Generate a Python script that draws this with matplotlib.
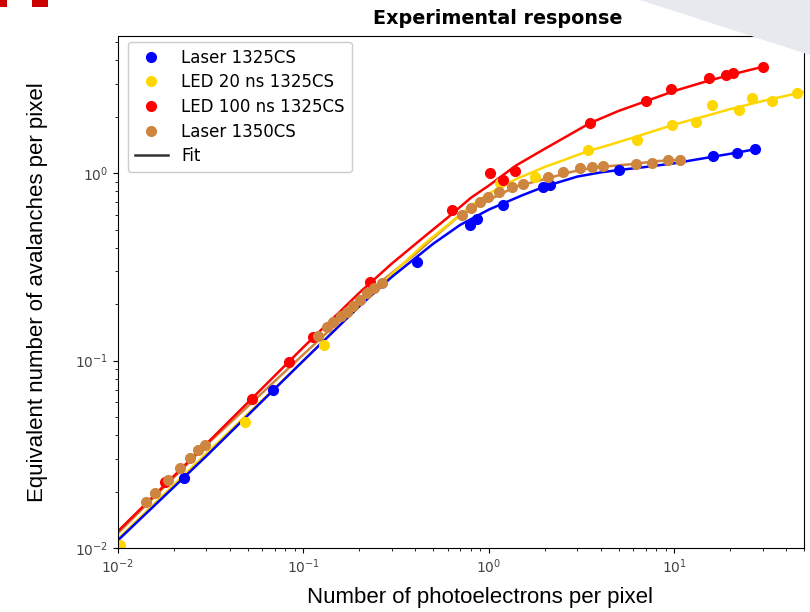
import matplotlib
matplotlib.use('Agg')
import matplotlib.pyplot as plt
from matplotlib.lines import Line2D
from matplotlib.patches import Polygon, Rectangle

# measured points
laser_1325_x = [0.0227, 0.0686, 0.409, 0.79, 0.86, 1.19, 1.95, 2.13, 5.0, 16.1, 21.7, 27.2]
laser_1325_y = [0.0236, 0.0696, 0.335, 0.528, 0.569, 0.675, 0.842, 0.863, 1.04, 1.23, 1.29, 1.34]

led20_x = [0.0102, 0.0484, 0.129, 1.15, 1.77, 3.42, 6.28, 9.7, 13.1, 15.9, 22.3, 26.2, 33.6, 45.7]
led20_y = [0.0104, 0.047, 0.121, 0.885, 0.95, 1.33, 1.50, 1.82, 1.87, 2.31, 2.17, 2.51, 2.42, 2.67]

led100_x = [0.018, 0.0527, 0.0836, 0.112, 0.229, 0.632, 1.01, 1.19, 1.38, 3.5, 7.0, 9.57, 15.3, 19.0, 20.7, 30.0]
led100_y = [0.0225, 0.0623, 0.098, 0.133, 0.262, 0.635, 1.0, 0.918, 1.03, 1.85, 2.42, 2.81, 3.21, 3.33, 3.41, 3.68]

laser_1350_x = [0.0142, 0.0158, 0.0186, 0.0216, 0.0244, 0.027, 0.0295,
                0.12, 0.134, 0.145, 0.16, 0.171, 0.185, 0.202, 0.22, 0.24, 0.265,
                0.715, 0.80, 0.89, 0.99, 1.13, 1.34, 1.52, 2.08, 2.5, 3.1, 3.6, 4.1,
                6.2, 7.6, 9.2, 10.7]
laser_1350_y = [0.0176, 0.0197, 0.023, 0.0267, 0.0302, 0.0335, 0.0355,
                0.135, 0.151, 0.16, 0.172, 0.181, 0.195, 0.21, 0.23, 0.245, 0.259,
                0.597, 0.65, 0.70, 0.745, 0.79, 0.84, 0.88, 0.95, 1.01, 1.06, 1.08, 1.09,
                1.12, 1.14, 1.17, 1.18]

# fit curves
fit_1325_x = [0.01, 0.03, 0.1, 0.2, 0.3, 0.5, 0.7, 1, 1.5, 2, 3, 4, 5, 7, 10, 15, 20, 27]
fit_1325_y = [0.0110, 0.031, 0.100, 0.195, 0.28, 0.42, 0.53, 0.64, 0.76, 0.85, 0.96, 1.01,
              1.04, 1.08, 1.13, 1.21, 1.27, 1.34]

fit_led20_x = [0.01, 0.03, 0.1, 0.2, 0.3, 0.45, 0.6, 0.8, 1, 1.4, 2, 2.5, 3.4, 4.5, 6, 10, 15, 20, 30, 50]
fit_led20_y = [0.0112, 0.032, 0.100, 0.195, 0.29, 0.42, 0.53, 0.67, 0.78, 0.93, 1.08, 1.17,
               1.31, 1.42, 1.55, 1.82, 2.03, 2.2, 2.43, 2.72]

fit_led100_x = [0.01, 0.03, 0.1, 0.2, 0.3, 0.45, 0.6, 0.8, 1, 1.4, 2, 3.5, 5, 7, 10, 15, 20, 30]
fit_led100_y = [0.0123, 0.036, 0.118, 0.23, 0.33, 0.46, 0.58, 0.74, 0.86, 1.1, 1.35, 1.85,
                2.15, 2.42, 2.75, 3.1, 3.35, 3.70]

fit_1350_x = [0.01, 0.03, 0.1, 0.18, 0.27, 0.4, 0.5, 0.7, 1, 1.4, 2, 2.7, 3.6, 6, 8, 10.7]
fit_1350_y = [0.0120, 0.0355, 0.108, 0.185, 0.27, 0.37, 0.45, 0.60, 0.72, 0.85, 0.93, 1.01,
              1.07, 1.12, 1.16, 1.18]

blue = '#0000ff'
gold = '#ffd700'
red = '#ff0000'
brown = '#cd853f'

fig = plt.figure(figsize=(8.1, 6.12), dpi=100)

# slide decorations
fig.patches.append(Polygon([[640/810, 1], [1, 1], [1, 1-55/612]], closed=True,
                           transform=fig.transFigure, facecolor='#e6e9ee', edgecolor='none'))
fig.patches.append(Rectangle((0, 1-7/612), 7/810, 7/612, transform=fig.transFigure,
                             facecolor='#cc0000', edgecolor='none'))
fig.patches.append(Rectangle((32/810, 1-7/612), 16/810, 7/612, transform=fig.transFigure,
                             facecolor='#cc0000', edgecolor='none'))

ax = fig.add_axes([118/810, 1-548/612, 686/810, 512/612])
ax.set_xscale('log')
ax.set_yscale('log')

ax.plot(fit_1350_x, fit_1350_y, color=brown, lw=1.8)
ax.plot(fit_led20_x, fit_led20_y, color=gold, lw=1.8)
ax.plot(fit_1325_x, fit_1325_y, color=blue, lw=1.8)
ax.plot(fit_led100_x, fit_led100_y, color=red, lw=1.8)

ax.plot(laser_1325_x, laser_1325_y, 'o', color=blue, ms=7, label='Laser 1325CS')
ax.plot(led20_x, led20_y, 'o', color=gold, ms=7, label='LED 20 ns 1325CS')
ax.plot(led100_x, led100_y, 'o', color=red, ms=7, label='LED 100 ns 1325CS')
ax.plot(laser_1350_x, laser_1350_y, 'o', color=brown, ms=7, label='Laser 1350CS')

ax.set_xlim(0.01, 50)
ax.set_ylim(0.01, 5.4)

handles, labels = ax.get_legend_handles_labels()
handles.append(Line2D([], [], color='#333333', lw=1.8))
labels.append('Fit')
ax.legend(handles, labels, loc='upper left', bbox_to_anchor=(10/686, 1-6/512),
          fontsize=12, labelspacing=0.4, borderaxespad=0, framealpha=1)

ax.tick_params(labelsize=10, labelcolor='#444444')
fig.text(498/810, 1-18/612, 'Experimental response', ha='center', va='center',
         fontsize=13.8, fontweight='bold')

fig.text(480/810, 1-598/612, 'Number of photoelectrons per pixel', ha='center', va='center',
         fontsize=16, family='Liberation Sans')
fig.text(38/810, 1-292/612, 'Equivalent number of avalanches per pixel', ha='center', va='center',
         rotation=90, fontsize=16, family='Liberation Sans')

fig.savefig('out.png', dpi=100)
